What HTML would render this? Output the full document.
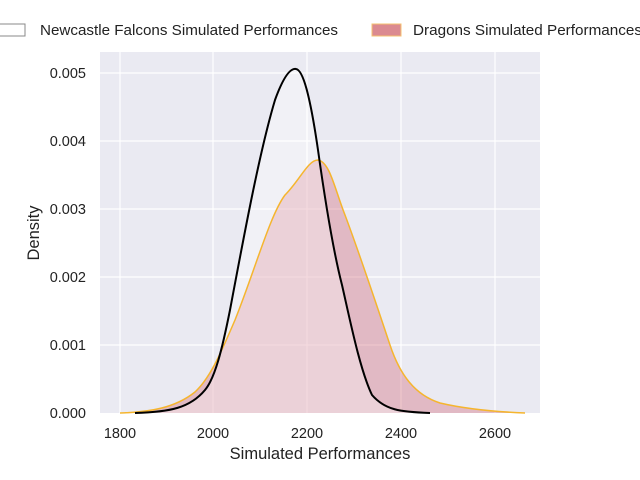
<!DOCTYPE html>
<html><head><meta charset="utf-8"><style>
body{margin:0;background:#fff;}
svg{display:block;font-family:"Liberation Sans",sans-serif;}
</style></head><body>
<svg width="640" height="480" viewBox="0 0 640 480">
<rect x="100" y="52" width="440" height="361" fill="#eaeaf2"/>
<g stroke="#fff" stroke-width="1.2">
<line x1="120" y1="52" x2="120" y2="413"/><line x1="213" y1="52" x2="213" y2="413"/>
<line x1="307" y1="52" x2="307" y2="413"/><line x1="401" y1="52" x2="401" y2="413"/>
<line x1="495" y1="52" x2="495" y2="413"/>
<line x1="100" y1="73" x2="540" y2="73"/><line x1="100" y1="141" x2="540" y2="141"/>
<line x1="100" y1="209" x2="540" y2="209"/><line x1="100" y1="277" x2="540" y2="277"/>
<line x1="100" y1="345" x2="540" y2="345"/>
</g>
<path d="M120,413 C150,412 175,408 195,392 C210,378 220,355 235,320 C255,270 270,215 285,195 C300,180 308,160 318,160 C330,162 335,190 345,215 C360,255 375,300 390,345 C400,375 415,395 440,403 C470,410 500,412 525,413 Z" fill="#d5707f" fill-opacity="0.4" stroke="none"/>
<path d="M135,413 C170,412 190,408 205,390 C215,378 222,350 230,310 C245,230 260,150 275,100 C283,78 290,68 296,69 C303,70 310,95 318,150 C325,200 333,250 342,285 C350,320 360,370 372,395 C385,410 400,412 430,413 Z" fill="#ffffff" fill-opacity="0.35" stroke="none"/>
<path d="M120,413 C150,412 175,408 195,392 C210,378 220,355 235,320 C255,270 270,215 285,195 C300,180 308,160 318,160 C330,162 335,190 345,215 C360,255 375,300 390,345 C400,375 415,395 440,403 C470,410 500,412 525,413" fill="none" stroke="#f5b52e" stroke-width="1.5"/>
<path d="M135,413 C170,412 190,408 205,390 C215,378 222,350 230,310 C245,230 260,150 275,100 C283,78 290,68 296,69 C303,70 310,95 318,150 C325,200 333,250 342,285 C350,320 360,370 372,395 C385,410 400,412 430,413" fill="none" stroke="#000" stroke-width="2"/>
<g font-size="14.5" fill="#222" text-anchor="end">
<text x="86" y="418">0.000</text><text x="86" y="350">0.001</text><text x="86" y="282">0.002</text>
<text x="86" y="214">0.003</text><text x="86" y="146">0.004</text><text x="86" y="78">0.005</text>
</g>
<g font-size="14.5" fill="#222" text-anchor="middle">
<text x="120" y="438">1800</text><text x="213" y="438">2000</text><text x="307" y="438">2200</text>
<text x="401" y="438">2400</text><text x="495" y="438">2600</text>
</g>
<text x="320" y="459" font-size="16.5" fill="#222" text-anchor="middle">Simulated Performances</text>
<text x="39" y="233" font-size="16.5" fill="#222" text-anchor="middle" transform="rotate(-90 39 233)">Density</text>
<rect x="-5" y="24" width="30" height="12" fill="#fff" stroke="#888" stroke-width="1"/>
<text x="40" y="35" font-size="15" fill="#222" textLength="298" lengthAdjust="spacingAndGlyphs">Newcastle Falcons Simulated Performances</text>
<rect x="372" y="24" width="29" height="12" fill="#db8a90" stroke="#f5c070" stroke-width="1"/>
<text x="413" y="35" font-size="15" fill="#222" textLength="229" lengthAdjust="spacingAndGlyphs">Dragons Simulated Performances</text>
</svg>
</body></html>
